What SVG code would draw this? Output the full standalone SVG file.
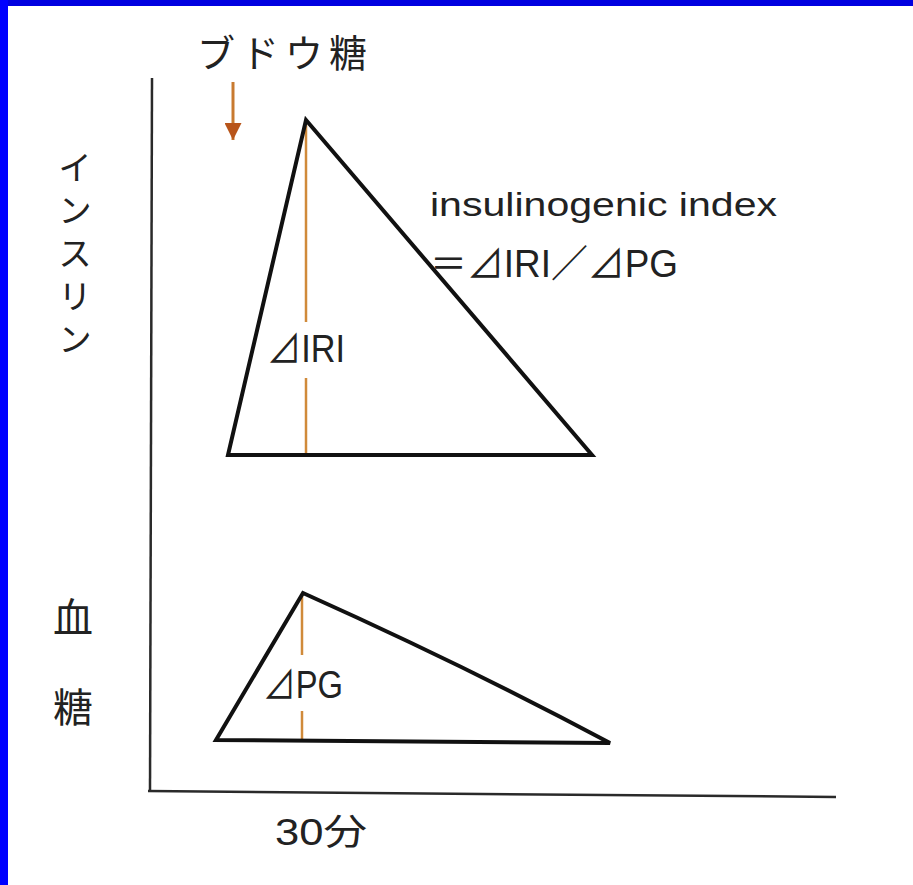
<svg xmlns="http://www.w3.org/2000/svg" width="913" height="885" viewBox="0 0 913 885">
<style>
.t{font-family:"Liberation Sans","Noto Sans CJK JP",sans-serif;fill:#222}
.j{font-family:"Noto Sans CJK JP",sans-serif;fill:#222}
.tri{fill:none;stroke:#111;stroke-width:4;stroke-linejoin:miter}
.ax{stroke:#2a2a2a;stroke-width:2.5;fill:none}
.or{stroke:#d08a3a;stroke-width:2.5;fill:none}
</style>
<defs>
<marker id="ah" viewBox="0 0 10 10" refX="10" refY="5" markerWidth="22" markerHeight="17" markerUnits="userSpaceOnUse" orient="auto">
<path d="M0,0 L10,5 L0,10 Z" fill="#b8551a"/>
</marker>
</defs>
<rect width="913" height="885" fill="#fff"/>
<rect x="0" y="0" width="913" height="6" fill="#0000e0"/>
<rect x="0" y="0" width="8" height="885" fill="#0000ff"/>
<g id="axes">
<line class="ax" x1="152" y1="78" x2="150" y2="792"/>
<line class="ax" x1="148" y1="791" x2="836" y2="797"/>
</g>
<g id="connectors">
<line x1="233" y1="82" x2="233" y2="140" stroke="#c87a30" stroke-width="3" marker-end="url(#ah)"/>
<line class="or" x1="306" y1="124" x2="306" y2="322"/>
<line class="or" x1="306" y1="378" x2="306" y2="455"/>
<line class="or" x1="302" y1="596" x2="302" y2="655"/>
<line class="or" x1="302" y1="711" x2="302" y2="740"/>
</g>
<g id="insulin-triangle">
<path class="tri" d="M228,455 L306,120 Q445,282 592,455 Z"/>
</g>
<g id="glucose-triangle">
<path class="tri" d="M216,740 L303,593 Q470,668 610,743 Z"/>
</g>
<g id="labels">
<text class="j" x="197" y="67" font-size="38" textLength="170" lengthAdjust="spacing">ブドウ糖</text>
<text class="j" x="75" y="150" font-size="34" writing-mode="vertical-rl" letter-spacing="9">インスリン</text>
<text class="j" x="73" y="632" font-size="40" text-anchor="middle">血</text>
<text class="j" x="73" y="722" font-size="40" text-anchor="middle">糖</text>
<text class="t" x="430" y="216" font-size="33" textLength="347" lengthAdjust="spacingAndGlyphs">insulinogenic index</text>
<text class="t" x="430" y="277" font-size="38" textLength="248" lengthAdjust="spacingAndGlyphs">＝⊿IRI／⊿PG</text>
<text class="t" x="267" y="362" font-size="38" textLength="78" lengthAdjust="spacingAndGlyphs">⊿IRI</text>
<text class="t" x="263" y="698" font-size="38" textLength="80" lengthAdjust="spacingAndGlyphs">⊿PG</text>
<text class="t" x="275" y="845" font-size="36" textLength="92" lengthAdjust="spacingAndGlyphs">30分</text>
</g>
</svg>
